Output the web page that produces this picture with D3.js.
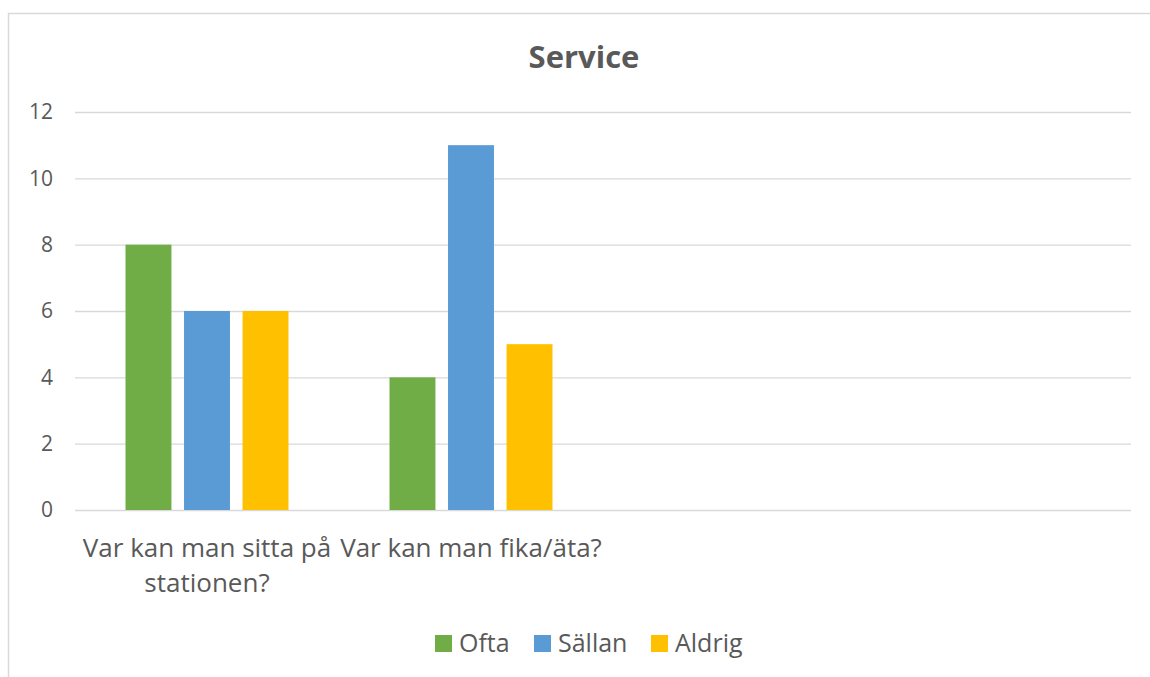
<!DOCTYPE html>
<html>
<head>
<meta charset="utf-8">
<script src="https://cdn.jsdelivr.net/npm/d3@7"></script>
<style>
  html, body { margin: 0; padding: 0; background: #fff; }
  svg { display: block; }
  text { font-family: "Open Sans", sans-serif; fill: #595959; }
</style>
</head>
<body>
<svg id="chart" width="1150" height="677"></svg>
<script>
const title = "Service";
const categories = ["Var kan man sitta på stationen?", "Var kan man fika/äta?", "", ""];
const seriesNames = ["Ofta", "Sällan", "Aldrig"];
const ofta   = [8, 4, null, null];
const sallan = [6, 11, null, null];
const aldrig = [6, 5, null, null];
const yTicks = [0, 2, 4, 6, 8, 10, 12];
const colors = ["#70AD47", "#5B9BD5", "#FFC000"];

const seriesValues = [ofta, sallan, aldrig];
const svg = d3.select("#chart");
const W = 1150, H = 677;

// outer chart border (cropped at right and bottom)
svg.append("path")
  .attr("d", `M8.5,${H + 2} V13.5 H${W + 2}`)
  .attr("fill", "none").attr("stroke", "#D9D9D9").attr("stroke-width", 1.5);

const m = { left: 75, right: 1131, top: 112, bottom: 510 };

const x0 = d3.scaleBand().domain(d3.range(categories.length)).range([m.left, m.right]).paddingInner(0).paddingOuter(0);
const innerW = 163;
const x1 = d3.scaleBand().domain(seriesNames).range([0, innerW]).paddingInner(0.215);
const y = d3.scaleLinear().domain([0, 12]).range([m.bottom, m.top]);

// gridlines + y tick labels
const yAxis = d3.axisLeft(y).tickValues(yTicks).tickSize(-(m.right - m.left)).tickPadding(22).tickFormat(d3.format("d"));
const gy = svg.append("g").attr("transform", `translate(${m.left},0)`).call(yAxis);
gy.select(".domain").remove();
gy.selectAll(".tick line").attr("stroke", "#D9D9D9").attr("stroke-width", 1.3);
gy.selectAll(".tick text").attr("font-size", 21).attr("fill", "#595959")
  .style("font-family", "'Open Sans', sans-serif");

// bars
const groups = svg.append("g").selectAll("g")
  .data(categories.map((c, i) => i))
  .join("g")
  .attr("transform", i => `translate(${x0(i) + (x0.bandwidth() - innerW) / 2},0)`);

groups.selectAll("rect")
  .data(i => seriesNames.map((s, k) => ({ s, k, v: seriesValues[k][i] })).filter(d => d.v != null))
  .join("rect")
  .attr("x", d => x1(d.s))
  .attr("width", x1.bandwidth())
  .attr("y", d => y(d.v))
  .attr("height", d => y(0) - y(d.v))
  .attr("fill", d => colors[d.k]);

// category labels with wrapping
const labelG = svg.append("g");
categories.forEach((c, i) => {
  if (!c) return;
  const cx = x0(i) + x0.bandwidth() / 2;
  const t = labelG.append("text")
    .attr("x", cx).attr("y", 557)
    .attr("text-anchor", "middle")
    .attr("font-size", 26);
  const words = c.split(" ");
  let line = [];
  const maxW = 285;
  let tspan = t.append("tspan").attr("x", cx);
  words.forEach(w => {
    line.push(w);
    tspan.text(line.join(" "));
    if (tspan.node().getComputedTextLength() > maxW && line.length > 1) {
      line.pop();
      tspan.text(line.join(" "));
      line = [w];
      tspan = t.append("tspan").attr("x", cx).attr("dy", 35).text(w);
    }
  });
});

// title
svg.append("text")
  .attr("x", 584).attr("y", 68)
  .attr("text-anchor", "middle")
  .attr("font-size", 31).attr("font-weight", "bold")
  .text(title);

// legend
const legendItems = [
  { name: seriesNames[0], x: 435 },
  { name: seriesNames[1], x: 534 },
  { name: seriesNames[2], x: 651 }
];
const lg = svg.append("g");
legendItems.forEach((d, k) => {
  lg.append("rect").attr("x", d.x).attr("y", 635).attr("width", 17).attr("height", 17).attr("fill", colors[k]);
  lg.append("text").attr("x", d.x + 24).attr("y", 652).attr("font-size", 25).text(d.name);
});
</script>
</body>
</html>
